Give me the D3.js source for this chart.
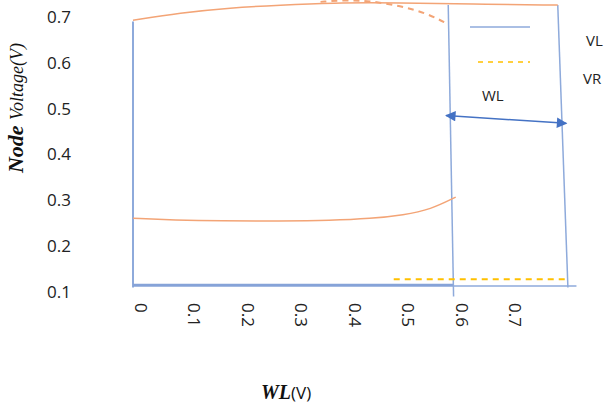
<!DOCTYPE html>
<html>
<head>
<meta charset="utf-8">
<script src="https://cdn.jsdelivr.net/npm/d3@7"></script>
<style>
  body { margin: 0; background: #fff; }
  svg { display: block; }
</style>
</head>
<body>
<svg id="chart" width="607" height="410"></svg>
<script>
// tick labels
var yTicks = [0.1, 0.2, 0.3, 0.4, 0.5, 0.6, 0.7]
var xTicks = [0, 0.1, 0.2, 0.3, 0.4, 0.5, 0.6, 0.7]

// VL (solid) upper branch
var vlHighX = [0, 0.088, 0.182, 0.276, 0.37, 0.5, 0.632, 0.795]
var vlHighY = [0.693, 0.709, 0.72, 0.726, 0.731, 0.731, 0.728, 0.726]
// dashed branch near the top
var vrHighX = [0.351, 0.398, 0.445, 0.501, 0.548, 0.589]
var vrHighY = [0.733, 0.737, 0.735, 0.724, 0.709, 0.685]
// lower solid branch
var vlLowX = [0, 0.079, 0.163, 0.276, 0.37, 0.445, 0.507, 0.557, 0.604]
var vlLowY = [0.261, 0.257, 0.255, 0.255, 0.256, 0.26, 0.268, 0.28, 0.307]
// yellow dashed level
var vrLowX = [0.488, 0.814]
var vrLowY = [0.128, 0.128]
// blue frame lines
var leftX = [0, 0], leftY = [0.69, 0.11]
var baseX = [0, 0.6], baseY = [0.115, 0.115]
var baseExtX = [0.6, 0.83], baseExtY = [0.113, 0.113]
var midX = [0.59, 0.6], midY = [0.726, 0.09]
var rightX = [0.795, 0.814], rightY = [0.726, 0.11]
// WL arrow
var arrowX = [0.586, 0.811], arrowY = [0.485, 0.468]

var svg = d3.select('#chart'),
    x = d3.scaleLinear().domain([0, 0.7]).range([133, 507]),
    y = d3.scaleLinear().domain([0.1, 0.7]).range([292, 17])

var blue = '#8eaadb', orange = '#f3a476', yellow = '#ffc000', arrowBlue = '#4472c4'

var defs = svg.append('defs')
function marker(id, orient){
    defs.append('marker')
        .attr('id', id)
        .attr('viewBox', '0 0 10 10')
        .attr('refX', 9).attr('refY', 5)
        .attr('markerWidth', 8).attr('markerHeight', 7)
        .attr('orient', orient)
      .append('path')
        .attr('d', 'M0,0L10,5L0,10Z')
        .attr('fill', arrowBlue)
}
marker('arrEnd', 'auto')
marker('arrStart', 'auto-start-reverse')

var line = d3.line().x(d => x(d[0])).y(d => y(d[1]))
var smooth = d3.line().x(d => x(d[0])).y(d => y(d[1])).curve(d3.curveBasis)

function pts(xs, ys){ return xs.map((v, i) => [v, ys[i]]) }

function draw(xs, ys, color, width, dash, gen){
    svg.append('path')
        .attr('d', (gen || line)(pts(xs, ys)))
        .attr('fill', 'none')
        .attr('stroke', color)
        .attr('stroke-width', width)
        .attr('stroke-dasharray', dash || null)
}

// frame
draw(leftX, leftY, blue, 2)
draw(baseX, baseY, '#86a3d8', 3)
draw(baseExtX, baseExtY, blue, 1.5)
draw(midX, midY, blue, 1.5)
draw(rightX, rightY, blue, 1.5)

// curves
draw(vlHighX, vlHighY, orange, 1.5, null, smooth)
draw(vrHighX, vrHighY, orange, 2, '6,5', smooth)
draw(vlLowX, vlLowY, orange, 1.5, null, smooth)
draw(vrLowX, vrLowY, yellow, 2, '6,5')

// WL arrow
svg.append('path')
    .attr('d', line(pts(arrowX, arrowY)))
    .attr('stroke', arrowBlue)
    .attr('stroke-width', 1.5)
    .attr('marker-end', 'url(#arrEnd)')
    .attr('marker-start', 'url(#arrStart)')

// legend
svg.append('line').attr('x1', 470).attr('x2', 530).attr('y1', 27).attr('y2', 27)
    .attr('stroke', blue).attr('stroke-width', 1.5)
svg.append('line').attr('x1', 478).attr('x2', 530).attr('y1', 62).attr('y2', 62)
    .attr('stroke', yellow).attr('stroke-width', 1.5).attr('stroke-dasharray', '5,5')
svg.append('text').attr('x', 586).attr('y', 46).text('VL')
    .attr('font-family', 'Open Sans').attr('font-size', 15).attr('fill', '#222')
svg.append('text').attr('x', 583).attr('y', 84).text('VR')
    .attr('font-family', 'Open Sans').attr('font-size', 15).attr('fill', '#222')
svg.append('text').attr('x', 482).attr('y', 101).text('WL')
    .attr('font-family', 'Open Sans').attr('font-size', 15).attr('fill', '#222')

// y tick labels
svg.append('g').selectAll('text')
    .data(yTicks)
    .join('text')
    .attr('x', 71)
    .attr('y', d => y(d))
    .attr('dy', '0.35em')
    .attr('text-anchor', 'end')
    .attr('font-family', 'Open Sans')
    .attr('font-size', 17)
    .attr('fill', '#222')
    .text(d => d)

// x tick labels, rotated
svg.append('g').selectAll('text')
    .data(xTicks)
    .join('text')
    .attr('transform', d => 'translate(' + (x(d) + 8) + ',303) rotate(90)')
    .attr('dy', '0.35em')
    .attr('font-family', 'Open Sans')
    .attr('font-size', 17)
    .attr('fill', '#222')
    .text(d => d)

// axis titles
var yt = svg.append('text')
    .attr('transform', 'translate(23,108) rotate(-90)')
    .attr('text-anchor', 'middle')
    .attr('font-family', 'Liberation Serif')
    .attr('font-style', 'italic')
    .attr('fill', '#111')
yt.append('tspan').attr('font-weight', 'bold').attr('font-size', 22).text('Node ')
yt.append('tspan').attr('font-size', 18).text('Voltage(V)')

var xt = svg.append('text')
    .attr('x', 261).attr('y', 399)
    .attr('fill', '#111')
xt.append('tspan').attr('font-family', 'Liberation Serif').attr('font-style', 'italic')
    .attr('font-weight', 'bold').attr('font-size', 20).text('WL')
xt.append('tspan').attr('font-family', 'Open Sans').attr('font-size', 17).text('(V)')
</script>
</body>
</html>
